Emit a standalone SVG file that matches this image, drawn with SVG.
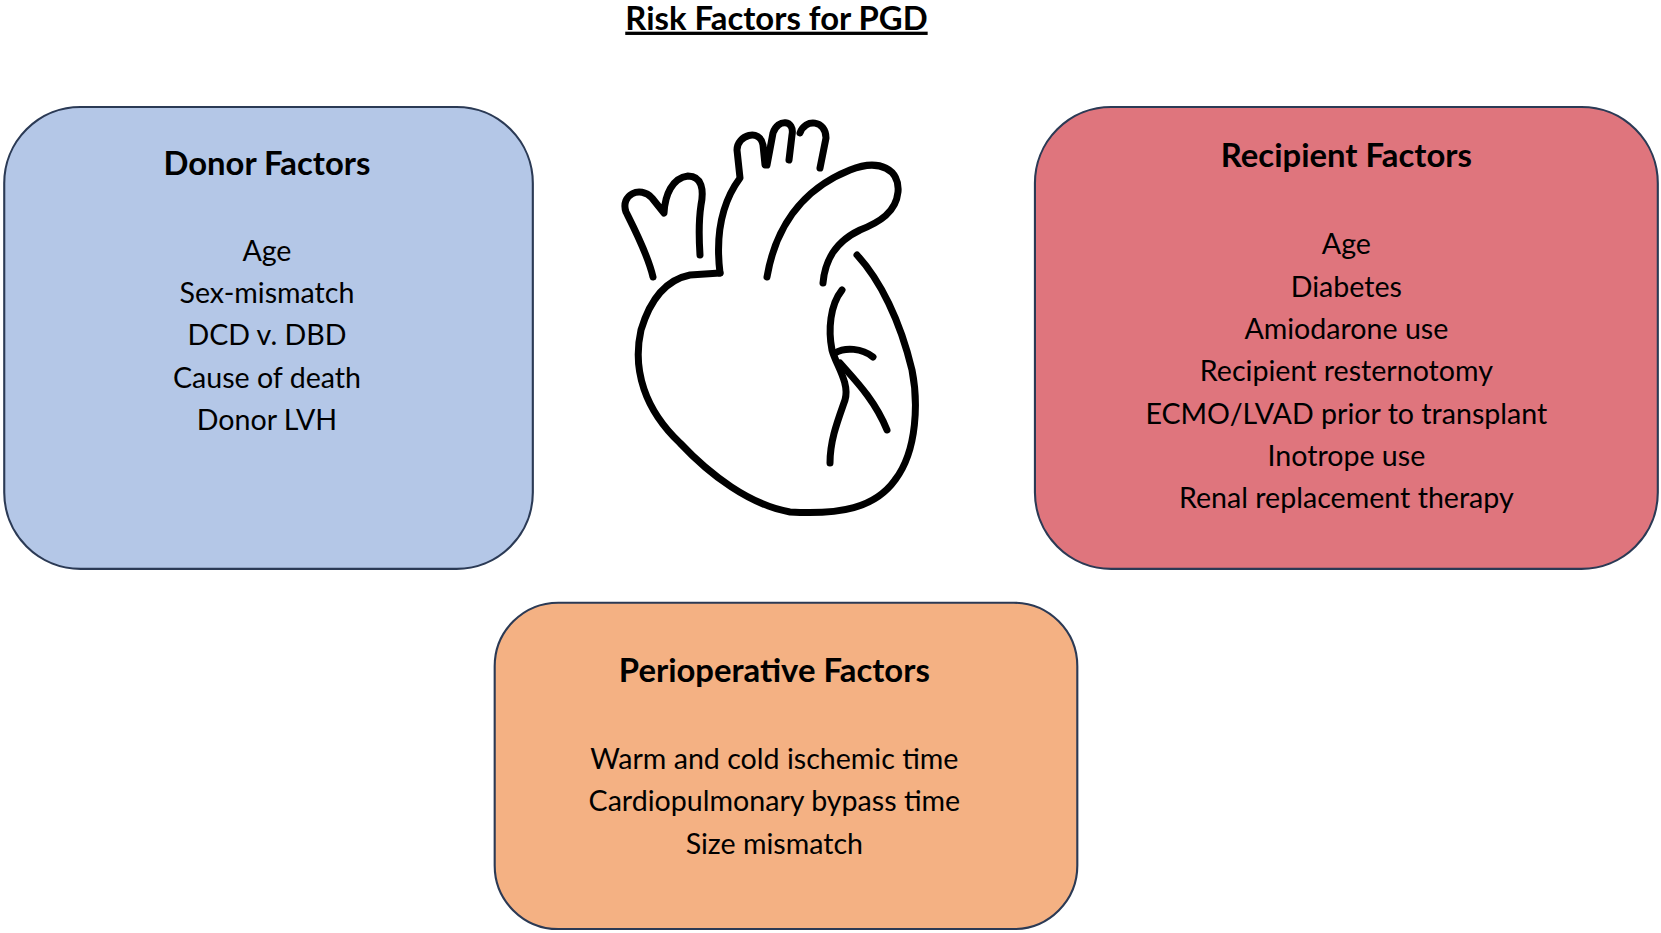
<svg xmlns="http://www.w3.org/2000/svg" width="1661" height="933" viewBox="0 0 1661 933">
<style>
.box{stroke:#2b3a55;stroke-width:2}
.h{font-family:Lato,"Open Sans",sans-serif;font-weight:bold;font-size:31px;text-anchor:middle;fill:#000}
.t{font-family:Lato,"Open Sans",sans-serif;font-size:27px;text-anchor:middle;fill:#000}
.ht{fill:none;stroke:#000;stroke-width:7;stroke-linecap:round;stroke-linejoin:round}
</style>
<rect width="1661" height="933" fill="#fff"/>
<g transform="scale(1.0593)">
<g id="title"><text class="h" x="733" y="28" text-decoration="underline">Risk Factors for PGD</text></g>
<g id="donor">
<rect class="box" x="4" y="101" width="499" height="436" rx="72" fill="#b4c7e7"/>
<text class="h" x="252" y="165">Donor Factors</text>
<text class="t" x="252" y="246">Age</text>
<text class="t" x="252" y="286">Sex-mismatch</text>
<text class="t" x="252" y="326">DCD v. DBD</text>
<text class="t" x="252" y="366">Cause of death</text>
<text class="t" x="252" y="406">Donor LVH</text>
</g>
<g id="recipient">
<rect class="box" x="977" y="101" width="588" height="436" rx="72" fill="#df757d"/>
<text class="h" x="1271" y="158">Recipient Factors</text>
<text class="t" x="1271" y="240">Age</text>
<text class="t" x="1271" y="280">Diabetes</text>
<text class="t" x="1271" y="320">Amiodarone use</text>
<text class="t" x="1271" y="360">Recipient resternotomy</text>
<text class="t" x="1271" y="400">ECMO/LVAD prior to transplant</text>
<text class="t" x="1271" y="440">Inotrope use</text>
<text class="t" x="1271" y="480">Renal replacement therapy</text>
</g>
<g id="perioperative">
<rect class="box" x="467" y="569" width="550" height="308" rx="60" fill="#f4b183"/>
<text class="h" x="731" y="644">Perioperative Factors</text>
<text class="t" x="731" y="726">Warm and cold ischemic time</text>
<text class="t" x="731" y="766">Cardiopulmonary bypass time</text>
<text class="t" x="731" y="806">Size mismatch</text>
</g>
</g>
<g id="heart">
<path class="ht" d="M720,273 L690,275 C665,280 650,300 641,330 C632,370 645,410 680,443 C710,475 750,505 790,512 C840,515 875,508 895,480 C918,450 918,400 912,370 C900,320 880,280 857,255"/>
<path class="ht" d="M720,273 C716,240 720,205 740,178 L737,150 C737,135 760,128 763,145 L765,165 M767,165 L773,133 C778,118 795,120 792,135 L789,160 M800,133 C805,118 826,120 826,138 L820,168"/>
<path class="ht" d="M767,277 C775,230 800,190 850,170 C880,158 900,170 898,192 C896,212 880,222 860,230 C835,242 825,260 823,283"/>
<path class="ht" d="M653,277 C648,255 635,230 626,212 C620,195 640,185 652,198 L664,213 C665,195 672,178 688,176 C702,176 704,190 701,205 C698,225 699,240 700,255"/>
<path class="ht" d="M842,290 C830,305 828,330 832,350 C836,365 850,383 845,400 C838,420 830,440 830,463"/>
<path class="ht" d="M835,353 C845,347 862,348 873,357"/>
<path class="ht" d="M840,363 C855,380 875,400 887,430"/>
</g>
</svg>
